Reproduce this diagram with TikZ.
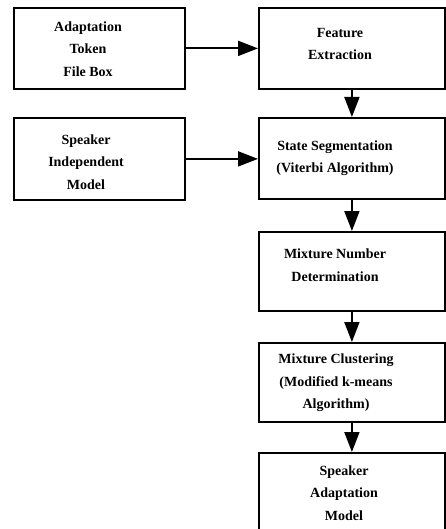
\documentclass[tikz,border=0pt]{standalone}
\usepackage{fontspec}
\setmainfont{Liberation Serif}
\usetikzlibrary{positioning,arrows.meta}
\tikzstyle{flowChart} = [x = 1pt, y = -1pt]
\tikzstyle{stageBox} = [draw, line width=1.8pt, inner sep=0pt, anchor=north west, minimum width=186pt, minimum height=81pt]
\tikzstyle{inputBox} = [stageBox, minimum width=171pt]
\tikzstyle{stageText} = [font=\fontsize{14}{22.5}\selectfont\bfseries, align=center, inner sep=0pt]
\tikzstyle{flowArrow} = [line width=1.8pt, -{Triangle[length=20pt, width=15pt]}]

\begin{document}
\begin{tikzpicture}[flowChart]
  \useasboundingbox (0,0) rectangle (446,529);

  % input boxes on the left
  \node[inputBox] (token) at (13,7) {};
  \node[inputBox, minimum height=82pt] (indep) at (13,117) {};

  % processing chain on the right
  \node[stageBox] (feature) at (258,7) {};
  \node[stageBox] (state) at (258,117) {};
  \node[stageBox, minimum height=79pt] (number) at (258,231) {};
  \node[stageBox, minimum height=79pt] (cluster) at (258,342) {};
  \node[stageBox, minimum height=95pt] (adapt) at (258,452) {};

  \node[stageText] (tokenText) at (88,49) {Adaptation\\Token\\File Box};
  \node[stageText] (indepText) at (86,162) {Speaker\\Independent\\Model};
  \node[stageText] (featureText) at (340,44) {Feature\\Extraction};
  \node[stageText] (stateText) at (335,158) {State Segmentation\\(Viterbi Algorithm)};
  \node[stageText] (numberText) at (335,265) {Mixture Number\\Determination};
  \node[stageText] (clusterText) at (336,383) {Mixture Clustering\\(Modified k-means\\Algorithm)};
  \node[stageText] (adaptText) at (344,493) {Speaker\\Adaptation\\Model};

  % connectors
  \draw[flowArrow] (token.east) -- (feature.west);
  \draw[flowArrow] (indep.east) -- (indep.east -| state.west);
  \draw[flowArrow] (feature.south) -- (state.north);
  \draw[flowArrow] (state.south) -- (number.north);
  \draw[flowArrow] (number.south) -- (cluster.north);
  \draw[flowArrow] (cluster.south) -- (adapt.north);
\end{tikzpicture}
\end{document}
